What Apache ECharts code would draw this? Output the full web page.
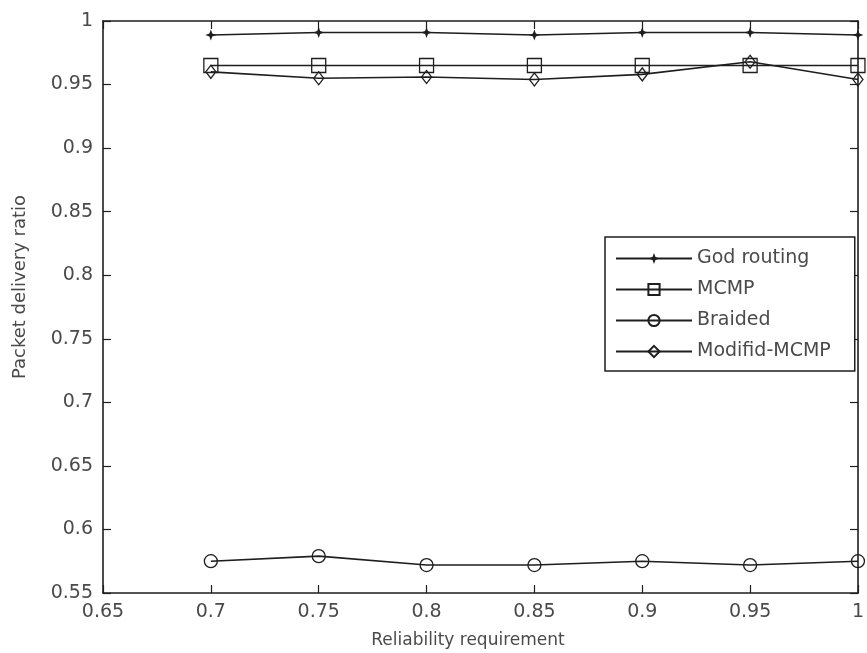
<!DOCTYPE html>
<html>
<head>
<meta charset="utf-8">
<script src="https://cdn.jsdelivr.net/npm/echarts@6/dist/echarts.min.js"></script>
<style>html,body{margin:0;padding:0;background:#fff}#c{width:867px;height:653px}</style>
</head>
<body>
<div id="c"></div>
<script>
const xValues = [0.7, 0.75, 0.8, 0.85, 0.9, 0.95, 1.0];
const godRouting = [0.989, 0.991, 0.991, 0.989, 0.991, 0.991, 0.989];
const mcmp = [0.965, 0.965, 0.965, 0.965, 0.965, 0.965, 0.965];
const braided = [0.575, 0.579, 0.572, 0.572, 0.575, 0.572, 0.575];
const modifidMcmp = [0.960, 0.955, 0.956, 0.954, 0.958, 0.968, 0.954];
const xTickLabels = ['0.65', '0.7', '0.75', '0.8', '0.85', '0.9', '0.95', '1'];
const yTickLabels = ['0.55', '0.6', '0.65', '0.7', '0.75', '0.8', '0.85', '0.9', '0.95', '1'];

const ink = '#1e1e1e';
const txt = '#4a4a4a';
const font = 'DejaVu Sans, sans-serif';

function pairs(ys) { return xValues.map((x, i) => [x, ys[i]]); }
function fmtX(v) { const i = Math.round((v - 0.65) / 0.05); return xTickLabels[i] ?? ''; }
function fmtY(v) { const i = Math.round((v - 0.55) / 0.05); return yTickLabels[i] ?? ''; }

function mkSeries(name, data, symbol, size, filled) {
  return {
    name, type: 'line', data: pairs(data), symbol, symbolSize: size,
    lineStyle: { color: ink, width: 1.6 },
    itemStyle: { color: filled ? ink : 'rgba(0,0,0,0)', borderColor: ink, borderWidth: filled ? 0 : 1.3 },
    emphasis: { disabled: true }, animation: false, z: 3
  };
}

const axisCommon = {
  type: 'value', min: 0.65, max: 1.0, interval: 0.05,
  axisLine: { show: true, lineStyle: { color: ink, width: 1.6 } },
  axisTick: { show: true, inside: true, length: 8, lineStyle: { color: ink, width: 1.2 } },
  splitLine: { show: false }
};

const chart = echarts.init(document.getElementById('c'));
chart.setOption({
  backgroundColor: '#fff',
  animation: false,
  grid: { left: 103, right: 1, top: 21, bottom: 60, containLabel: false },
  xAxis: [
    Object.assign({}, axisCommon, {
      position: 'bottom',
      axisLabel: { color: txt, fontSize: 19, fontFamily: font, margin: 10, formatter: fmtX, showMaxLabel: true, showMinLabel: true }
    }),
    Object.assign({}, axisCommon, {
      position: 'top', axisLabel: { show: false }
    })
  ],
  yAxis: [
    Object.assign({}, axisCommon, {
      min: 0.55, max: 1.0, position: 'left',
      axisLabel: { color: txt, fontSize: 19, fontFamily: font, margin: 10, formatter: fmtY }
    }),
    Object.assign({}, axisCommon, {
      min: 0.55, max: 1.0, position: 'right', axisLabel: { show: false }
    })
  ],
  graphic: [
    { type: 'text', x: 468, y: 641,
      style: { text: 'Reliability requirement', fill: txt, font: '17px ' + font, textAlign: 'center', textVerticalAlign: 'middle' } },
    { type: 'text', x: 20, y: 287, rotation: Math.PI / 2,
      style: { text: 'Packet delivery ratio', fill: txt, font: '18px ' + font, textAlign: 'center', textVerticalAlign: 'middle' } }
  ],
  legend: {
    orient: 'vertical', left: 605, top: 237,
    backgroundColor: '#fff', borderColor: ink, borderWidth: 1.5,
    padding: [12, 24, 10, 10], itemGap: 12, itemWidth: 76, itemHeight: 14,
    textStyle: { color: txt, fontSize: 19, fontFamily: font },
    data: ['God routing', 'MCMP', 'Braided', 'Modifid-MCMP']
  },
  series: [
    mkSeries('God routing', godRouting, 'path://M0,-6 L1.6,-1.6 L6,0 L1.6,1.6 L0,6 L-1.6,1.6 L-6,0 L-1.6,-1.6 Z', 11, true),
    mkSeries('MCMP', mcmp, 'rect', 14, false),
    mkSeries('Braided', braided, 'circle', 13, false),
    mkSeries('Modifid-MCMP', modifidMcmp, 'diamond', [10, 13], false)
  ]
});
</script>
</body>
</html>
